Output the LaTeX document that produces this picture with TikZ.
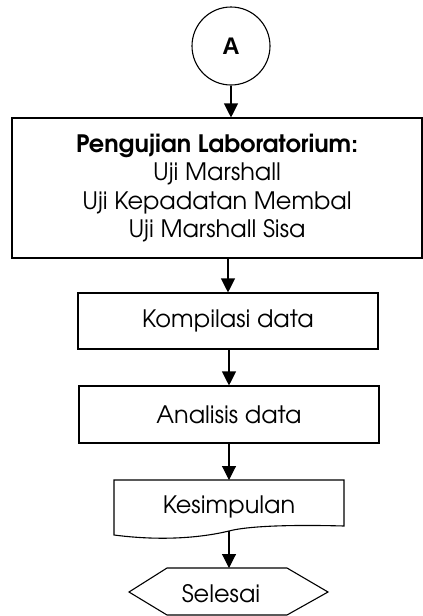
\documentclass[tikz,border=0pt]{standalone}
\usepackage{fontspec}
\setmainfont{texgyreadventor}[Extension=.otf, UprightFont=*-regular, BoldFont=*-bold]
\newfontfamily\arialfont{Liberation Sans}
\usetikzlibrary{arrows.meta}
\begin{document}
\begin{tikzpicture}[x=1pt,y=-1pt,
  line width=1.1pt,
  every node/.style={font=\fontsize{24}{28.5}\selectfont, inner sep=0pt},
  proc/.style={draw, rectangle, align=center},
  arr/.style={-{Triangle[length=14pt,width=14pt]}, line width=1.1pt},
  shp/.style={draw, line width=1.1pt}
]
\useasboundingbox (0,0) rectangle (423,616);
% connector A
\node[draw, circle, minimum size=78pt, font=\arialfont\bfseries\fontsize{24}{24}\selectfont] (a) at (231,46) {A};
% lab box
\node[proc, minimum width=410pt, minimum height=140pt] (lab) at (217,188)
  {\textbf{Pengujian Laboratorium:}\\Uji Marshall\\Uji Kepadatan Membal\\Uji Marshall Sisa};
\node[proc, minimum width=300pt, minimum height=56pt] (komp) at (228,321) {Kompilasi data};
\node[proc, minimum width=300pt, minimum height=57pt] (anal) at (229,414.5) {Analisis data};
% document shape
\draw[shp] (114,535) -- (114,480) -- (344,480) -- (344,526)
  .. controls (270,524) and (240,528) .. (229,531)
  .. controls (200,538) and (160,541) .. (114,535) -- cycle;
\node (kes) at (229,507) {Kesimpulan};
\coordinate (kestop) at (229,480);
\coordinate (kesbot) at (229,531);
% hexagon
\draw[shp] (129,592) -- (167,568) -- (287,568) -- (328,592) -- (287,615) -- (167,615) -- cycle;
\node (sel) at (221,594) {Selesai};
\coordinate (seltop) at (229,568);
% arrows
\draw[arr] (a.south) -- (a.south |- lab.north);
\draw[arr] (komp.north |- lab.south) -- (komp.north);
\draw[arr] (komp.south) -- (komp.south -| anal.north) -- (anal.north);
\draw[arr] (anal.south) -- (kestop);
\draw[arr] (kesbot) -- (seltop);
\end{tikzpicture}
\end{document}
